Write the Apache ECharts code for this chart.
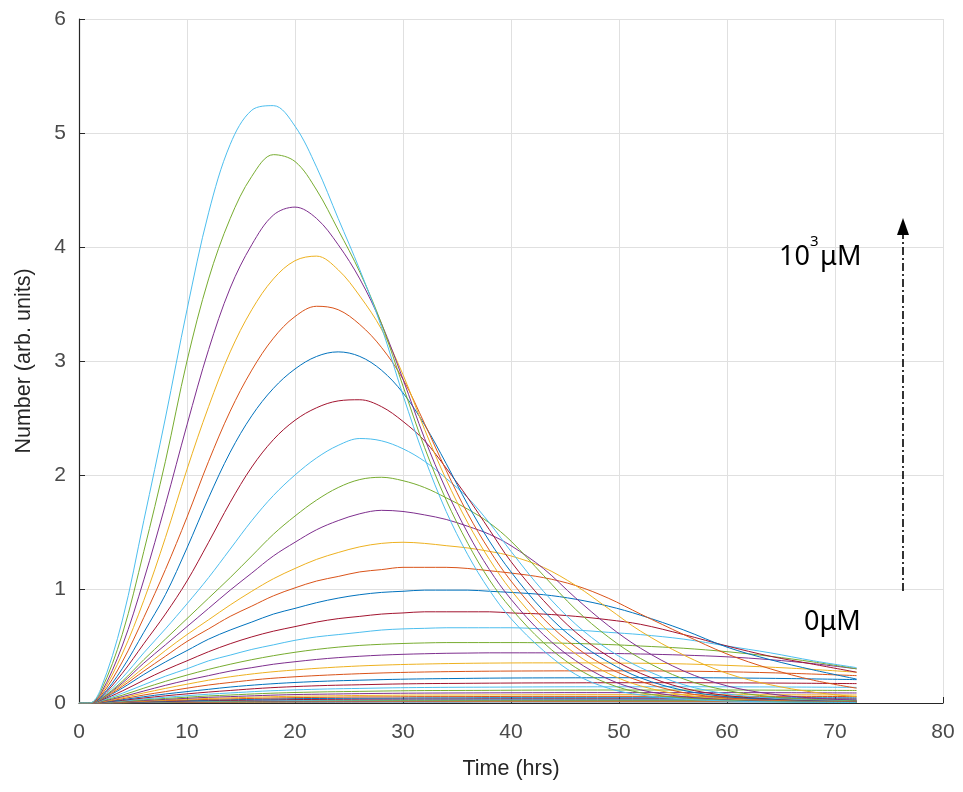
<!DOCTYPE html>
<html>
<head>
<meta charset="utf-8">
<title>Number vs time</title>
<script src="https://cdn.jsdelivr.net/npm/echarts@6/dist/echarts.min.js"></script>
<style>
  html, body { margin: 0; padding: 0; background: #ffffff; }
  #chart { width: 963px; height: 792px; }
</style>
</head>
<body>
<div id="chart"></div>
<script>
// Sampling times (hrs): a finer grid for the curves that rise and fall strongly,
// a coarser one for the nearly flat low-concentration curves
const hoursMain = [0, 1, 2, 4, 6, 8, 10, 12, 14, 16, 18, 20, 22, 24, 26, 28, 30, 32, 34, 36, 38, 40, 43, 46, 49, 52, 56, 60, 64, 68, 72];
const hoursLow = [0, 1, 2, 4, 6, 8, 10, 12, 14, 17, 20, 23, 26, 29, 32, 35, 38, 42, 46, 50, 55, 60, 66, 72];

// Curves from the highest concentration (10^3 uM) downwards, on hoursMain
const curve01 = [0, 0, 0.12, 0.72, 1.6, 2.5, 3.45, 4.3, 4.9, 5.2, 5.24, 5.06, 4.7, 4.25, 3.8, 3.3, 2.7, 2.15, 1.68, 1.3, 0.99, 0.74, 0.46, 0.25, 0.13, 0.07, 0.035, 0.018, 0.01, 0.006, 0.004];
const curve02 = [0, 0, 0.1, 0.6, 1.33, 2.12, 3.0, 3.72, 4.25, 4.62, 4.81, 4.75, 4.5, 4.15, 3.78, 3.33, 2.78, 2.24, 1.78, 1.4, 1.08, 0.83, 0.53, 0.31, 0.17, 0.09, 0.045, 0.023, 0.013, 0.008, 0.005];
const curve03 = [0, 0, 0.08, 0.5, 1.08, 1.74, 2.44, 3.1, 3.64, 4.02, 4.28, 4.35, 4.25, 4.02, 3.72, 3.33, 2.84, 2.32, 1.87, 1.49, 1.17, 0.91, 0.6, 0.37, 0.21, 0.115, 0.055, 0.028, 0.016, 0.01, 0.006];
const curve04 = [0, 0, 0.07, 0.43, 0.9, 1.45, 2.05, 2.6, 3.08, 3.45, 3.72, 3.88, 3.92, 3.8, 3.57, 3.28, 2.88, 2.4, 1.96, 1.58, 1.26, 0.99, 0.67, 0.43, 0.26, 0.15, 0.07, 0.035, 0.019, 0.011, 0.007];
const curve05 = [0, 0, 0.06, 0.36, 0.75, 1.17, 1.63, 2.12, 2.56, 2.92, 3.2, 3.39, 3.48, 3.45, 3.32, 3.12, 2.84, 2.45, 2.04, 1.66, 1.34, 1.07, 0.74, 0.49, 0.31, 0.19, 0.09, 0.045, 0.024, 0.014, 0.008];
const curve06 = [0, 0, 0.05, 0.3, 0.62, 0.95, 1.36, 1.8, 2.2, 2.52, 2.76, 2.93, 3.04, 3.08, 3.04, 2.92, 2.72, 2.44, 2.1, 1.74, 1.42, 1.15, 0.81, 0.55, 0.36, 0.22, 0.11, 0.055, 0.029, 0.016, 0.009];
const curve07 = [0, 0, 0.045, 0.26, 0.52, 0.78, 1.07, 1.41, 1.76, 2.07, 2.31, 2.48, 2.59, 2.65, 2.66, 2.6, 2.47, 2.3, 2.06, 1.8, 1.52, 1.24, 0.9, 0.62, 0.41, 0.26, 0.13, 0.065, 0.034, 0.019, 0.011];
const curve08 = [0, 0, 0.04, 0.22, 0.44, 0.65, 0.87, 1.1, 1.35, 1.6, 1.82, 2.0, 2.15, 2.26, 2.32, 2.3, 2.23, 2.12, 1.97, 1.8, 1.58, 1.33, 0.98, 0.69, 0.47, 0.31, 0.16, 0.08, 0.042, 0.023, 0.013];
const curve09 = [0, 0, 0.036, 0.19, 0.38, 0.56, 0.74, 0.92, 1.1, 1.29, 1.48, 1.64, 1.78, 1.89, 1.96, 1.98, 1.95, 1.89, 1.8, 1.7, 1.58, 1.42, 1.12, 0.82, 0.58, 0.39, 0.21, 0.11, 0.056, 0.03, 0.017];
const curve10 = [0, 0, 0.034, 0.175, 0.35, 0.51, 0.67, 0.83, 0.99, 1.14, 1.29, 1.41, 1.52, 1.6, 1.66, 1.69, 1.68, 1.65, 1.61, 1.55, 1.48, 1.38, 1.18, 0.92, 0.68, 0.48, 0.28, 0.15, 0.08, 0.043, 0.024];
const curve11 = [0, 0, 0.032, 0.16, 0.31, 0.46, 0.6, 0.73, 0.86, 0.98, 1.09, 1.18, 1.26, 1.32, 1.37, 1.4, 1.41, 1.4, 1.38, 1.36, 1.33, 1.29, 1.19, 1.03, 0.83, 0.63, 0.42, 0.26, 0.16, 0.095, 0.055];
const curve12 = [0, 0, 0.03, 0.145, 0.28, 0.41, 0.54, 0.65, 0.76, 0.85, 0.94, 1.01, 1.07, 1.11, 1.15, 1.17, 1.19, 1.19, 1.19, 1.18, 1.16, 1.14, 1.1, 1.03, 0.92, 0.78, 0.6, 0.43, 0.3, 0.2, 0.13];
const curve13 = [0, 0, 0.027, 0.13, 0.25, 0.36, 0.46, 0.56, 0.64, 0.71, 0.78, 0.83, 0.88, 0.92, 0.95, 0.97, 0.98, 0.99, 0.99, 0.99, 0.98, 0.97, 0.95, 0.91, 0.85, 0.77, 0.64, 0.49, 0.38, 0.29, 0.21];
const curve14 = [0, 0, 0.023, 0.105, 0.2, 0.29, 0.37, 0.45, 0.52, 0.58, 0.63, 0.67, 0.71, 0.74, 0.76, 0.78, 0.79, 0.8, 0.8, 0.8, 0.8, 0.79, 0.78, 0.76, 0.73, 0.69, 0.6, 0.5, 0.41, 0.34, 0.27];
const curve15 = [0, 0, 0.018, 0.085, 0.16, 0.235, 0.3, 0.37, 0.42, 0.47, 0.51, 0.55, 0.58, 0.6, 0.62, 0.64, 0.65, 0.655, 0.66, 0.66, 0.66, 0.66, 0.65, 0.64, 0.62, 0.6, 0.56, 0.5, 0.44, 0.37, 0.31];
const curve16 = [0, 0, 0.015, 0.068, 0.13, 0.19, 0.245, 0.295, 0.34, 0.38, 0.415, 0.445, 0.47, 0.49, 0.505, 0.515, 0.522, 0.527, 0.53, 0.53, 0.53, 0.53, 0.528, 0.522, 0.513, 0.5, 0.48, 0.45, 0.41, 0.36, 0.3];
const curve17 = [0, 0, 0.012, 0.055, 0.105, 0.155, 0.2, 0.24, 0.28, 0.31, 0.34, 0.362, 0.382, 0.398, 0.41, 0.42, 0.427, 0.432, 0.436, 0.438, 0.44, 0.44, 0.44, 0.438, 0.435, 0.43, 0.42, 0.405, 0.38, 0.345, 0.3];

// Low-concentration curves down to 0 uM, on hoursLow
const curve18 = [0, 0, 0.01, 0.046, 0.088, 0.128, 0.165, 0.2, 0.23, 0.265, 0.29, 0.31, 0.325, 0.335, 0.342, 0.347, 0.35, 0.352, 0.352, 0.35, 0.345, 0.33, 0.305, 0.27];
const curve19 = [0, 0, 0.008, 0.037, 0.07, 0.1, 0.13, 0.158, 0.18, 0.21, 0.23, 0.245, 0.257, 0.266, 0.272, 0.276, 0.279, 0.281, 0.282, 0.282, 0.28, 0.274, 0.26, 0.24];
const curve20 = [0, 0, 0.006, 0.029, 0.055, 0.079, 0.1, 0.12, 0.14, 0.163, 0.18, 0.192, 0.2, 0.207, 0.212, 0.215, 0.218, 0.22, 0.221, 0.222, 0.222, 0.22, 0.214, 0.205];
const curve21 = [0, 0, 0.005, 0.023, 0.044, 0.063, 0.08, 0.096, 0.11, 0.13, 0.144, 0.154, 0.16, 0.166, 0.17, 0.172, 0.174, 0.176, 0.177, 0.178, 0.178, 0.177, 0.174, 0.17];
const curve22 = [0, 0, 0.004, 0.018, 0.035, 0.05, 0.064, 0.077, 0.088, 0.104, 0.115, 0.123, 0.128, 0.133, 0.136, 0.138, 0.139, 0.141, 0.142, 0.142, 0.143, 0.142, 0.14, 0.137];
const curve23 = [0, 0, 0.003, 0.014, 0.028, 0.04, 0.051, 0.062, 0.07, 0.083, 0.092, 0.098, 0.102, 0.106, 0.109, 0.11, 0.111, 0.113, 0.114, 0.114, 0.114, 0.114, 0.112, 0.11];
const curve24 = [0, 0, 0.002, 0.011, 0.022, 0.032, 0.041, 0.05, 0.056, 0.066, 0.074, 0.078, 0.082, 0.085, 0.087, 0.088, 0.089, 0.09, 0.091, 0.091, 0.091, 0.091, 0.09, 0.088];
const curve25 = [0, 0, 0.002, 0.009, 0.018, 0.026, 0.033, 0.04, 0.045, 0.053, 0.059, 0.062, 0.066, 0.068, 0.07, 0.07, 0.071, 0.072, 0.073, 0.073, 0.073, 0.073, 0.072, 0.07];
const curve26 = [0, 0, 0.0015, 0.007, 0.014, 0.021, 0.026, 0.032, 0.036, 0.042, 0.047, 0.05, 0.053, 0.054, 0.056, 0.056, 0.057, 0.058, 0.058, 0.058, 0.058, 0.058, 0.058, 0.056];
const curve27 = [0, 0, 0.001, 0.006, 0.011, 0.017, 0.021, 0.026, 0.029, 0.034, 0.038, 0.04, 0.042, 0.043, 0.045, 0.045, 0.046, 0.046, 0.046, 0.046, 0.046, 0.046, 0.046, 0.045];
const curve28 = [0, 0, 0.001, 0.005, 0.009, 0.013, 0.017, 0.021, 0.023, 0.027, 0.03, 0.032, 0.034, 0.035, 0.036, 0.036, 0.037, 0.037, 0.037, 0.037, 0.037, 0.037, 0.037, 0.036];
const curve29 = [0, 0, 0.001, 0.004, 0.007, 0.011, 0.014, 0.017, 0.019, 0.022, 0.024, 0.026, 0.027, 0.028, 0.029, 0.029, 0.03, 0.03, 0.03, 0.03, 0.03, 0.03, 0.03, 0.029];
const curve30 = [0, 0, 0.001, 0.003, 0.006, 0.009, 0.011, 0.014, 0.015, 0.018, 0.019, 0.021, 0.022, 0.022, 0.023, 0.023, 0.024, 0.024, 0.024, 0.024, 0.024, 0.024, 0.024, 0.023];
const curve31 = [0, 0, 0.001, 0.003, 0.005, 0.007, 0.009, 0.011, 0.012, 0.014, 0.015, 0.017, 0.017, 0.018, 0.018, 0.019, 0.019, 0.019, 0.019, 0.019, 0.019, 0.019, 0.019, 0.018];
const curve32 = [0, 0, 0, 0.002, 0.004, 0.006, 0.007, 0.009, 0.01, 0.011, 0.012, 0.013, 0.014, 0.014, 0.015, 0.015, 0.015, 0.015, 0.015, 0.015, 0.015, 0.015, 0.015, 0.015];
const curve33 = [0, 0, 0, 0.002, 0.003, 0.004, 0.006, 0.007, 0.008, 0.009, 0.01, 0.011, 0.011, 0.012, 0.012, 0.012, 0.012, 0.012, 0.012, 0.012, 0.012, 0.012, 0.012, 0.012];
const curve34 = [0, 0, 0, 0.001, 0.002, 0.003, 0.004, 0.005, 0.006, 0.007, 0.008, 0.008, 0.009, 0.009, 0.009, 0.009, 0.01, 0.01, 0.01, 0.01, 0.01, 0.01, 0.01, 0.009];

const mainCurves = [curve01, curve02, curve03, curve04, curve05, curve06, curve07, curve08, curve09,
  curve10, curve11, curve12, curve13, curve14, curve15, curve16, curve17];
const lowCurves = [curve18, curve19, curve20, curve21, curve22, curve23, curve24, curve25, curve26,
  curve27, curve28, curve29, curve30, curve31, curve32, curve33, curve34];

// Default MATLAB line colour order
const lineColors = ['#0072BD', '#D95319', '#EDB120', '#7E2F8E', '#77AC30', '#4DBEEE', '#A2142F'];

const xAxisTitle = 'Time (hrs)';
const yAxisTitle = 'Number (arb. units)';

// Pair each curve with its time grid, highest concentration first
const curveList = mainCurves.map(v => ({ t: hoursMain, v: v }))
  .concat(lowCurves.map(v => ({ t: hoursLow, v: v })));

// Plot from 0 uM upwards so the tallest curve is drawn last
const series = curveList.slice().reverse().map((c, i) => ({
  type: 'line',
  data: c.t.map((t, j) => [t, c.v[j]]),
  showSymbol: false,
  smooth: 0.35,
  silent: true,
  clip: true,
  lineStyle: { width: 1, color: lineColors[i % lineColors.length] },
  emphasis: { disabled: true }
}));

const chart = echarts.init(document.getElementById('chart'), null, { renderer: 'canvas' });

const tickFont = { color: '#4a4a4a', fontSize: 21, fontFamily: 'Liberation Sans, Arial, sans-serif' };
const annoFont = 'Noto Sans, Open Sans, sans-serif';

chart.setOption({
  animation: false,
  backgroundColor: '#ffffff',
  color: lineColors,
  grid: { left: 79, right: 20, top: 19, bottom: 89, containLabel: false },
  xAxis: {
    type: 'value',
    min: 0,
    max: 80,
    interval: 10,
    name: xAxisTitle,
    nameLocation: 'middle',
    nameGap: 55,
    nameTextStyle: { color: '#262626', fontSize: 21.5, fontFamily: 'Liberation Sans, Arial, sans-serif' },
    axisLine: { show: true, onZero: false, lineStyle: { color: '#262626', width: 1.2 } },
    axisTick: { show: true, inside: true, length: 6, lineStyle: { color: '#262626' } },
    axisLabel: Object.assign({ margin: 19 }, tickFont),
    splitLine: { show: true, lineStyle: { color: '#e0e0e0', width: 1 } }
  },
  yAxis: {
    type: 'value',
    min: 0,
    max: 6,
    interval: 1,
    name: yAxisTitle,
    nameLocation: 'middle',
    nameRotate: 90,
    nameGap: 44,
    nameTextStyle: { color: '#262626', fontSize: 21.5, fontFamily: 'Liberation Sans, Arial, sans-serif' },
    axisLine: { show: true, onZero: false, lineStyle: { color: '#262626', width: 1.2 } },
    axisTick: { show: true, inside: true, length: 6, lineStyle: { color: '#262626' } },
    axisLabel: Object.assign({ margin: 13 }, tickFont),
    splitLine: { show: true, lineStyle: { color: '#e0e0e0', width: 1 } }
  },
  series: series,
  graphic: [
    // Concentration labels
    { type: 'text', z: 100, style: { text: '10', x: 779, y: 257, verticalAlign: 'middle', fill: '#000', font: '27px ' + annoFont } },
    { type: 'text', z: 100, style: { text: '3', x: 810, y: 242, verticalAlign: 'middle', fill: '#000', font: '15px ' + annoFont } },
    { type: 'text', z: 100, style: { text: 'μM', x: 820, y: 257, verticalAlign: 'middle', fill: '#000', font: '27px ' + annoFont } },
    { type: 'text', z: 100, style: { text: '0μM', x: 804, y: 622, verticalAlign: 'middle', fill: '#000', font: '27px ' + annoFont } },
    // Dash-dot arrow pointing towards higher concentration
    { type: 'line', z: 100, shape: { x1: 903, y1: 591, x2: 903, y2: 232 }, style: { stroke: '#000', lineWidth: 1.6, lineDash: [8, 3, 2, 3] } },
    { type: 'polygon', z: 100, shape: { points: [[897, 235], [909, 235], [903, 218]] }, style: { fill: '#000' } }
  ]
});
</script>
</body>
</html>
